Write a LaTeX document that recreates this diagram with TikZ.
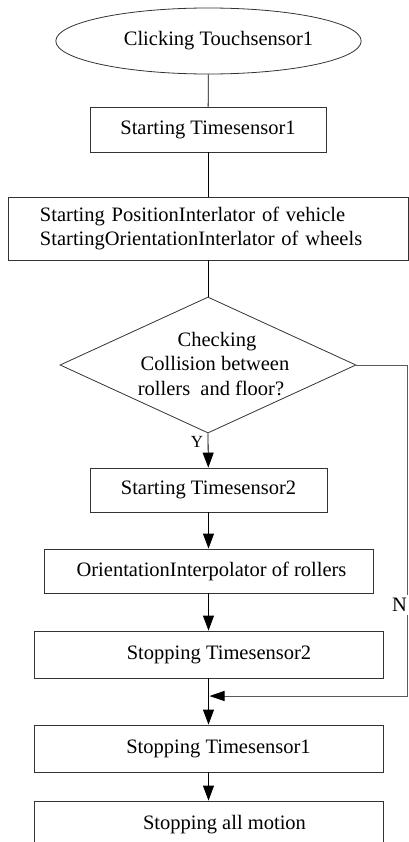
\documentclass[tikz,border=0pt]{standalone}
\usepackage{fontspec}
\setmainfont{Liberation Serif}
\usetikzlibrary{shapes.geometric,arrows.meta}

\begin{document}
\begin{tikzpicture}[
    x=1bp, y=-1bp,
    font=\fontsize{20.5bp}{24.5bp}\selectfont,
    box/.style={rectangle,draw=black!80,line width=0.8bp,inner sep=0pt},
    line/.style={line width=0.8bp},
    arrow/.style={-{Triangle[length=15bp,width=11bp]}, line width=0.8bp},
    back/.style={-{Triangle[length=15bp,width=10bp,color=black]}, line width=0.9bp, draw=black!65}
]
\useasboundingbox (0,0) rectangle (408,842);

\node[ellipse,draw=black!80,line width=0.8bp,minimum width=277bp,minimum height=66bp] (click) at (208.5,41) {\hspace*{20bp}Clicking Touchsensor1};
\node[box,minimum width=236bp,minimum height=45bp] (start1) at (208,129.5) {Starting Timesensor1};
\node[box,minimum height=63bp,text width=336bp,inner xsep=32bp,align=left] (startint) at (208,228.5) {Starting PositionInterlator of vehicle\\StartingOrientationInterlator of wheels};

\node[diamond,draw=black!80,line width=0.8bp,minimum width=296bp,minimum height=136bp,inner sep=0pt] (check) at (208,365) {};
\node[align=center,inner sep=0pt] (checktext) at (211,364) {\hspace*{12bp}Checking\\\hspace*{8bp}Collision between\\rollers~~and floor?};
\node[font=\fontsize{17bp}{20bp}\selectfont] (yes) at (197,442) {Y};

\node[box,minimum width=237bp,minimum height=44bp] (start2) at (208.5,490) {Starting Timesensor2};
\node[box,minimum width=329bp,minimum height=44bp] (rollint) at (208.5,571) {\hspace*{6bp}OrientationInterpolator of rollers};
\node[box,minimum width=349bp,minimum height=47bp] (stop2) at (208.5,654.5) {\hspace*{21bp}Stopping Timesensor2};
\node[box,minimum width=349bp,minimum height=47bp] (stop1) at (208.5,748.5) {\hspace*{20bp}Stopping Timesensor1};
\node[box,minimum width=349bp,minimum height=47bp] (stopall) at (208.5,824.5) {\hspace*{32bp}Stopping all motion};

\coordinate (noturn) at (407,365);
\coordinate (nodown) at (407,696);
\coordinate (merge) at (209.5,696);

\draw[line] (click) -- (start1);
\draw[line] (start1) -- (startint);
\draw[line] (startint) -- (check);
\draw[arrow] (check.south) -- (start2);
\draw[arrow] (start2) -- (rollint);
\draw[arrow] (rollint) -- (stop2);
\draw[arrow] (stop2) -- (stop1);
\draw[arrow] (stop1) -- (stopall);

\draw[back] (check.east) -- (noturn) -- (nodown) -- (merge);
\node[fill=white,inner xsep=1bp,inner ysep=3bp] (no) at (399.5,605) {N};

\end{tikzpicture}
\end{document}
